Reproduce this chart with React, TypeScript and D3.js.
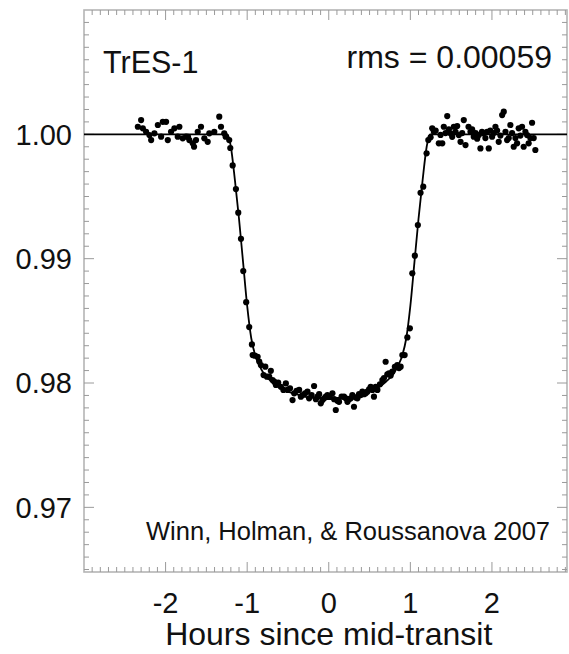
import React from "react";
import * as d3 from "d3";

// ---- Data ----
const preT = [-2.34, -2.3, -2.279, -2.239, -2.198, -2.177, -2.137, -2.095, -2.055, -2.034, -1.994, -1.973, -1.933, -1.892, -1.851, -1.831, -1.79, -1.749, -1.725, -1.709, -1.667, -1.651, -1.627, -1.606, -1.566, -1.525, -1.484, -1.464, -1.403, -1.342, -1.321, -1.281, -1.264, -1.22];
const preF = [1.00061, 1.00115, 1.00048, 1.00021, 0.99994, 0.99954, 1.00008, 1.00075, 0.99981, 1.00101, 1.00101, 0.99954, 1.00021, 1.00048, 0.99981, 1.00061, 0.99968, 0.99981, 0.9998, 0.99954, 0.99928, 0.999, 0.99954, 1.00021, 1.00061, 0.99968, 0.9994, 1.00008, 1.00021, 1.00142, 1.00061, 1.00008, 0.99981, 0.99954];

const ingT = [-1.207, -1.178, -1.138, -1.109, -1.076, -1.048, -1.012, -0.975, -0.942, -0.905];
const ingF = [0.9989, 0.9975, 0.9956, 0.9937, 0.9916, 0.989, 0.9865, 0.9845, 0.9831, 0.9822];

const botT = [-0.933, -0.872, -0.852, -0.832, -0.799, -0.778, -0.758, -0.73, -0.71, -0.689, -0.668, -0.648, -0.62, -0.587, -0.556, -0.526, -0.505, -0.475, -0.444, -0.424, -0.395, -0.363, -0.342, -0.322, -0.291, -0.261, -0.241, -0.21, -0.18, -0.158, -0.138, -0.118, -0.098, -0.077, -0.057, -0.036, -0.016, 0.012, 0.045, 0.066, 0.086, 0.106, 0.126, 0.157, 0.187, 0.208, 0.229, 0.249, 0.269, 0.289, 0.309, 0.33, 0.351, 0.371, 0.391, 0.412, 0.432, 0.453, 0.473, 0.494, 0.514, 0.535, 0.554, 0.575, 0.596, 0.627, 0.657, 0.677, 0.697, 0.718, 0.738, 0.759, 0.779, 0.81, 0.84, 0.861, 0.881];
const botF = [0.98225, 0.98211, 0.98172, 0.98145, 0.98064, 0.98131, 0.98051, 0.98051, 0.98098, 0.98024, 0.98011, 0.97984, 0.98004, 0.9797, 0.97944, 0.97997, 0.97944, 0.97957, 0.97863, 0.97917, 0.97937, 0.97944, 0.9789, 0.97903, 0.97917, 0.9793, 0.97877, 0.97903, 0.97976, 0.9787, 0.9789, 0.9791, 0.97837, 0.97864, 0.97877, 0.9789, 0.97903, 0.9789, 0.97917, 0.9787, 0.97783, 0.97857, 0.97849, 0.9789, 0.9789, 0.97877, 0.97849, 0.9787, 0.97877, 0.97903, 0.97809, 0.97884, 0.97877, 0.9791, 0.97903, 0.9793, 0.9791, 0.97917, 0.9793, 0.9795, 0.9797, 0.97944, 0.9789, 0.9797, 0.97944, 0.9799, 0.98024, 0.9804, 0.98171, 0.9807, 0.98078, 0.9806, 0.98091, 0.9813, 0.98145, 0.9812, 0.98131];

const egrT = [0.902, 0.93, 0.963, 0.994, 1.024, 1.055, 1.092, 1.125, 1.158, 1.199, 1.22];
const egrF = [0.98225, 0.98225, 0.98367, 0.9844, 0.98882, 0.99024, 0.99271, 0.9953, 0.99579, 0.99847, 0.99954];

const postT = [1.248, 1.268, 1.288, 1.31, 1.349, 1.37, 1.391, 1.41, 1.431, 1.452, 1.472, 1.492, 1.513, 1.533, 1.554, 1.574, 1.594, 1.615, 1.635, 1.655, 1.676, 1.713, 1.737, 1.757, 1.777, 1.8, 1.819, 1.839, 1.859, 1.878, 1.896, 1.92, 1.941, 1.961, 1.98, 2.002, 2.022, 2.043, 2.063, 2.083, 2.104, 2.125, 2.145, 2.166, 2.186, 2.206, 2.226, 2.247, 2.267, 2.288, 2.308, 2.328, 2.349, 2.369, 2.389, 2.41, 2.431, 2.45, 2.471, 2.492, 2.512, 2.532];
const postF = [0.99976, 1.00048, 1.00021, 1.0003, 0.99928, 0.99995, 0.99928, 1.00061, 1.0001, 1.00147, 1.0004, 1.00008, 0.9998, 1.00061, 1.0002, 1.00067, 0.99994, 0.9994, 1.0001, 1.00115, 0.99914, 1.00061, 1.00021, 1.0004, 0.99981, 1.0001, 0.99965, 0.99994, 0.99887, 1.0002, 1.00008, 0.9997, 1.00021, 0.99887, 1.0003, 0.99981, 1.0001, 1.00061, 1.0003, 0.9994, 0.9999, 1.00155, 1.00182, 1.0002, 0.99954, 0.9997, 1.00075, 1.0001, 0.999, 0.9997, 0.99928, 1.00048, 0.9999, 1.00061, 0.999, 1.0002, 0.99994, 0.99928, 0.9997, 1.00093, 0.9997, 0.99874];

const modelT = [-3.0, -1.24, -1.2, -1.15, -1.1, -1.05, -1.0, -0.95, -0.9, -0.85, -0.8, -0.7, -0.6, -0.5, -0.4, -0.3, -0.2, -0.1, 0.0, 0.1, 0.2, 0.3, 0.4, 0.5, 0.6, 0.7, 0.8, 0.85, 0.9, 0.95, 1.0, 1.05, 1.1, 1.15, 1.2, 1.24, 2.92];
const modelF = [1.0, 1.0, 0.999, 0.9963, 0.9932, 0.9897, 0.9862, 0.9836, 0.9822, 0.9814, 0.9808, 0.9801, 0.9796, 0.9793, 0.9791, 0.9789, 0.9788, 0.9788, 0.9787, 0.9788, 0.9788, 0.9789, 0.9791, 0.9793, 0.9796, 0.9801, 0.9808, 0.9814, 0.9822, 0.9836, 0.9862, 0.9897, 0.9932, 0.9963, 0.999, 1.0, 1.0];

const xTickValues = [-2, -1, 0, 1, 2];
const yTickValues = [0.97, 0.98, 0.99, 1.0];
const titleText = "TrES-1";
const rmsText = "rms = 0.00059";
const citeText = "Winn, Holman, & Roussanova 2007";
const xLabel = "Hours since mid-transit";

const W = 569;
const H = 654;
const L = 84, R = 567, T = 10, B = 572;

export default function App() {
  const x = d3.scaleLinear().domain([-3.0, 2.92]).range([L, R]);
  const y = d3.scaleLinear().domain([0.9648, 1.01]).range([B, T]);

  const allT = [...preT, ...ingT, ...botT, ...egrT, ...postT];
  const allF = [...preF, ...ingF, ...botF, ...egrF, ...postF];
  const pts = allT.map((t, i) => [t, allF[i]] as [number, number]);

  const line = d3
    .line<[number, number]>()
    .x((d) => x(d[0]))
    .y((d) => y(d[1]))
    .curve(d3.curveMonotoneX);
  const modelPath = line(modelT.map((t, i) => [t, modelF[i]] as [number, number])) || "";

  const xMinor = d3.range(-30, 30).map((k) => k / 10).filter((v) => v >= -3.0 && v <= 2.92 && Math.abs(v - Math.round(v)) > 1e-6);
  const yMinor = d3.range(965, 1010).map((k) => k / 1000).filter((v) => Math.abs(v * 100 - Math.round(v * 100)) > 1e-6);

  const tickColor = "#9a9a9a";
  const font = "'Liberation Sans', Arial, Helvetica, sans-serif";

  return (
    <svg width={W} height={H} style={{ position: "absolute", left: 0, top: 0, background: "#fff" }} fontFamily={font}>
      <rect x={0} y={0} width={W} height={H} fill="#fff" />
      {/* frame */}
      <rect x={L} y={T} width={R - L} height={B - T} fill="none" stroke="#b5b5b5" strokeWidth={1.6} />
      {/* x ticks */}
      {xMinor.map((v, i) => (
        <g key={"xm" + i} stroke={tickColor} strokeWidth={1}>
          <line x1={x(v)} x2={x(v)} y1={B} y2={B - 5} />
          <line x1={x(v)} x2={x(v)} y1={T} y2={T + 5} />
        </g>
      ))}
      {xTickValues.map((v) => (
        <g key={"xM" + v} stroke={tickColor} strokeWidth={1}>
          <line x1={x(v)} x2={x(v)} y1={B} y2={B - 10} />
          <line x1={x(v)} x2={x(v)} y1={T} y2={T + 10} />
        </g>
      ))}
      {/* y ticks */}
      {yMinor.map((v, i) => (
        <g key={"ym" + i} stroke={tickColor} strokeWidth={1}>
          <line x1={L} x2={L + 5} y1={y(v)} y2={y(v)} />
          <line x1={R} x2={R - 5} y1={y(v)} y2={y(v)} />
        </g>
      ))}
      {yTickValues.map((v) => (
        <g key={"yM" + v} stroke={tickColor} strokeWidth={1}>
          <line x1={L} x2={L + 10} y1={y(v)} y2={y(v)} />
          <line x1={R} x2={R - 10} y1={y(v)} y2={y(v)} />
        </g>
      ))}
      {/* tick labels */}
      {xTickValues.map((v) => (
        <text key={"xl" + v} x={x(v)} y={613} fontSize={29} textAnchor="middle" fill="#111">
          {String(v)}
        </text>
      ))}
      {yTickValues.map((v) => (
        <text key={"yl" + v} x={72} y={y(v)} dy="0.36em" fontSize={29} textAnchor="end" fill="#111">
          {d3.format(".2f")(v)}
        </text>
      ))}
      <text x={x(0)} y={645} fontSize={32} textAnchor="middle" fill="#111">{xLabel}</text>

      {/* model */}
      <path d={modelPath} fill="none" stroke="#000" strokeWidth={1.8} />
      {/* data */}
      {pts.map((d, i) => (
        <circle key={"p" + i} cx={x(d[0])} cy={y(d[1])} r={3.1} fill="#000" />
      ))}

      <text x={103} y={73} fontSize={30.5} fill="#111">{titleText}</text>
      <text x={552} y={68} fontSize={32} textAnchor="end" fill="#111">{rmsText}</text>
      <text x={550} y={540} fontSize={25.5} textAnchor="end" fill="#111">{citeText}</text>
    </svg>
  );
}
